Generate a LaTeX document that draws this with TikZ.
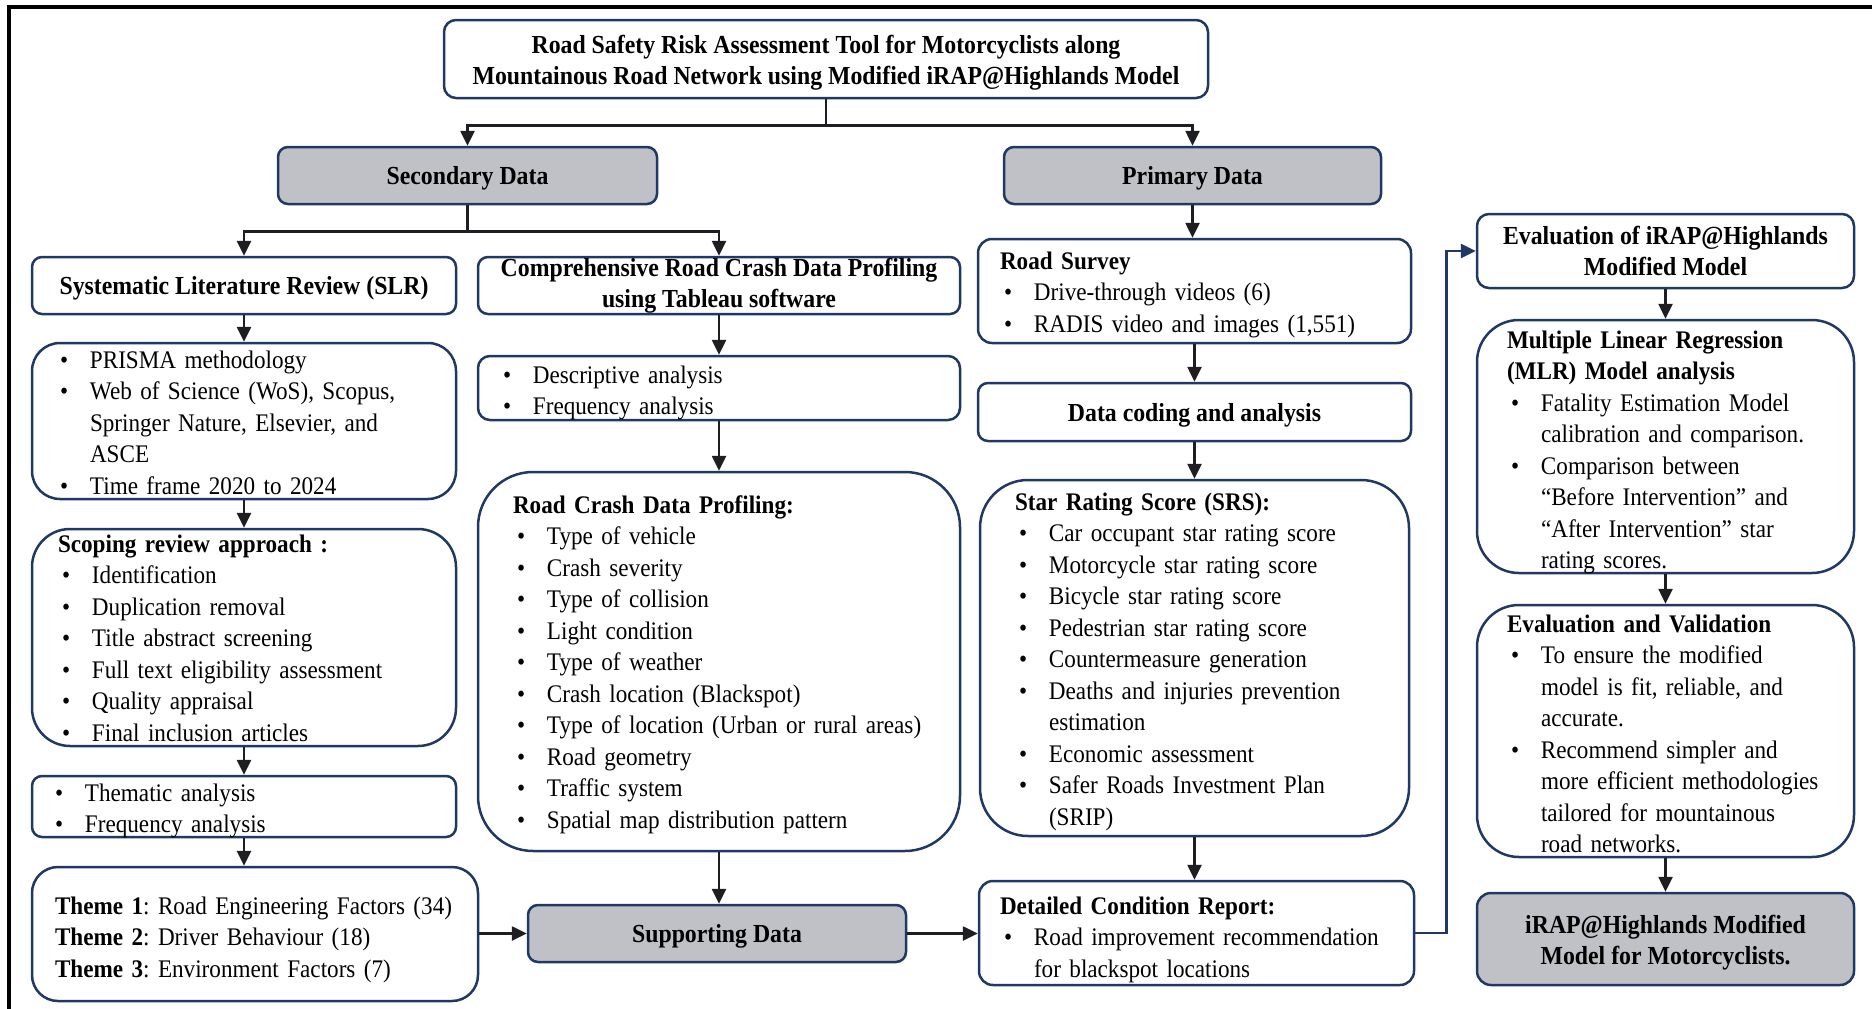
\documentclass[tikz,border=0pt]{standalone}
\usepackage{fontspec}
\setmainfont{Liberation Serif}[FakeStretch=0.915]
\usetikzlibrary{arrows.meta}

\definecolor{navy}{RGB}{31,56,100}
\definecolor{boxgray}{RGB}{191,193,198}
\definecolor{ink}{RGB}{30,30,34}

% bullet items: bullet at \itmbul, text (and wrapped lines) at \itmind
\newlength\itmind \setlength\itmind{34pt}
\newlength\itmbul \setlength\itmbul{4pt}
% \fitm opens the node text, \itm follows a header or another item
\newcommand\fitm[1]{\hangindent=\itmind\hangafter=1\noindent\makebox[\itmind][l]{\hspace{\itmbul}\textbullet}#1\par}
\newcommand\itm[1]{\par\fitm{#1}}
\newcommand\lsk[1]{\setlength\leftskip{#1pt}}

\tikzset{
  every node/.style={font=\fontsize{26}{31.5}\selectfont},
  bx/.style={draw=navy, line width=2.5pt, fill=white, inner ysep=0pt, text=black},
  hd/.style={bx, align=center, font=\fontsize{26}{31.5}\selectfont\bfseries,
             rounded corners=10pt, inner xsep=4pt},
  shaded/.style={fill=boxgray},
  lst/.style={bx, align=left, inner xsep=4pt, font=\fontsize{25.3}{31.5}\selectfont},
  % first baseline #1 below the top edge, #2 above the bottom edge
  tb/.style 2 args={text height=#1pt, text depth=#2pt},
  arr/.style={draw=ink, line width=2.6pt, -{Triangle[length=15pt,width=14pt]}},
}

\begin{document}
\frenchspacing
\begin{tikzpicture}[x=1pt,y=-1pt]
\useasboundingbox (0,0) rectangle (1872,1009);

% page frame (top and left rules)
\draw[line width=4pt, black] (1872,7) -- (9,7) -- (9,1009);

% ---- top ----
\node[hd, rounded corners=12pt, minimum width=764pt, minimum height=78pt] (title) at (826,59)
  {\rule{0pt}{26pt}Road Safety Risk Assessment Tool for Motorcyclists along\\
   Mountainous Road Network using Modified iRAP@Highlands Model};

\node[hd, shaded, minimum width=379pt, minimum height=57pt] (sec) at (467.5,175.5) {\rule{0pt}{24pt}Secondary Data};
\node[hd, shaded, minimum width=377pt, minimum height=57pt] (pri) at (1192.5,175.5) {\rule{0pt}{24pt}Primary Data};

% ---- secondary data branch ----
\node[hd, minimum width=424pt, minimum height=57pt] (slr) at (244,285.5) {\rule{0pt}{24pt}Systematic Literature Review (SLR)};
\node[hd, minimum width=482pt, minimum height=57pt] (crdp) at (719,285.5)
  {Comprehensive Road Crash Data Profiling\\using Tableau software};

\node[lst, tb={25}{131}, text width=416pt, minimum width=424pt, minimum height=156pt, rounded corners=28pt] (prisma) at (244,421)
  {\lsk{20}\fitm{PRISMA methodology}
   \itm{Web of Science (WoS), Scopus,\newline Springer Nature, Elsevier, and\newline ASCE}
   \itm{Time frame 2020 to 2024}};

\node[lst, tb={23}{194}, text width=416pt, minimum width=424pt, minimum height=217pt, rounded corners=38pt] (scoping) at (244,637.5)
  {\lsk{22}\textbf{Scoping review approach :}
   \itm{Identification}
   \itm{Duplication removal}
   \itm{Title abstract screening}
   \itm{Full text eligibility assessment}
   \itm{Quality appraisal}
   \itm{Final inclusion articles}};

\node[lst, tb={25}{36}, text width=416pt, minimum width=424pt, minimum height=61pt, rounded corners=10pt] (thematic) at (244,806.5)
  {\lsk{15}\fitm{Thematic analysis}
   \itm{Frequency analysis}};

\node[lst, tb={47}{87}, text width=438pt, minimum width=446pt, minimum height=134pt, rounded corners=26pt] (theme) at (255,934)
  {\lsk{19}\textbf{Theme 1}: Road Engineering Factors (34)\newline
   \textbf{Theme 2}: Driver Behaviour (18)\newline
   \textbf{Theme 3}: Environment Factors (7)\par};

\node[lst, tb={27}{37}, text width=474pt, minimum width=482pt, minimum height=64pt, rounded corners=12pt] (desc) at (719,388)
  {\lsk{17}\fitm{Descriptive analysis}
   \itm{Frequency analysis}};

\node[lst, tb={41}{338}, text width=474pt, minimum width=482pt, minimum height=379pt, rounded corners=55pt] (rcdp) at (719,661.5)
  {\lsk{31}\textbf{Road Crash Data Profiling:}
   \itm{Type of vehicle}
   \itm{Crash severity}
   \itm{Type of collision}
   \itm{Light condition}
   \itm{Type of weather}
   \itm{Crash location (Blackspot)}
   \itm{Type of location (Urban or rural areas)}
   \itm{Road geometry}
   \itm{Traffic system}
   \itm{Spatial map distribution pattern}};

\node[hd, shaded, minimum width=378pt, minimum height=57pt] (supp) at (717,933.5) {\rule{0pt}{24pt}Supporting Data};

% ---- primary data branch ----
\node[lst, tb={30}{74}, text width=425pt, minimum width=433pt, minimum height=104pt, rounded corners=14pt] (survey) at (1194.5,291)
  {\lsk{18}\textbf{Road Survey}
   \itm{Drive-through videos (6)}
   \itm{RADIS video and images (1,551)}};

\node[hd, minimum width=433pt, minimum height=58pt] (coding) at (1194.5,412) {\rule{0pt}{24pt}Data coding and analysis};

\node[lst, tb={30}{326}, text width=421pt, minimum width=429pt, minimum height=356pt, rounded corners=48pt] (srs) at (1194.5,658)
  {\lsk{31}\textbf{Star Rating Score (SRS):}
   \itm{Car occupant star rating score}
   \itm{Motorcycle star rating score}
   \itm{Bicycle star rating score}
   \itm{Pedestrian star rating score}
   \itm{Countermeasure generation}
   \itm{Deaths and injuries prevention\newline estimation}
   \itm{Economic assessment}
   \itm{Safer Roads Investment Plan\newline (SRIP)}};

\node[lst, tb={33}{71}, text width=427pt, minimum width=435pt, minimum height=104pt, rounded corners=14pt] (dcr) at (1196.5,933)
  {\lsk{17}\textbf{Detailed Condition Report:}
   \itm{Road improvement recommendation\newline for blackspot locations}};

% ---- evaluation column ----
\node[hd, rounded corners=12pt, minimum width=377pt, minimum height=74pt] (evalm) at (1665.5,251)
  {Evaluation of iRAP@Highlands\\Modified Model};

\node[lst, tb={28}{225}, text width=369pt, minimum width=377pt, minimum height=253pt, rounded corners=42pt] (mlr) at (1665.5,446.5)
  {\lsk{26}\textbf{Multiple Linear Regression\newline (MLR) Model analysis}
   \itm{Fatality Estimation Model\newline calibration and comparison.}
   \itm{Comparison between\newline “Before Intervention” and\newline “After Intervention” star\newline rating scores.}};

\node[lst, tb={27}{225}, text width=369pt, minimum width=377pt, minimum height=252pt, rounded corners=42pt] (ev) at (1665.5,731)
  {\lsk{26}\textbf{Evaluation and Validation}
   \itm{To ensure the modified\newline model is fit, reliable, and\newline accurate.}
   \itm{Recommend simpler and\newline more efficient methodologies\newline tailored for mountainous\newline road networks.}};

\node[hd, shaded, rounded corners=14pt, minimum width=377pt, minimum height=92pt] (final) at (1665.5,939)
  {\rule{0pt}{26pt}iRAP@Highlands Modified\\Model for Motorcyclists.};

% ---- connectors ----
\draw[arr] (title.south) -- ++(0,26) -| (sec.north);
\draw[arr] (title.south) -- ++(0,26) -| (pri.north);

\draw[arr] (sec.south) -- ++(0,26) -| (slr.north);
\draw[arr] (sec.south) -- ++(0,26) -| (crdp.north);

\draw[arr] (slr.south) -- (slr.south |- prisma.north);
\draw[arr] (prisma.south) -- (prisma.south |- scoping.north);
\draw[arr] (scoping.south) -- (scoping.south |- thematic.north);
\draw[arr] (thematic.south) -- (thematic.south |- theme.north);
\draw[arr] (theme.east |- supp.west) -- (supp.west);

\draw[arr] (crdp.south) -- (crdp.south |- desc.north);
\draw[arr] (desc.south) -- (desc.south |- rcdp.north);
\draw[arr] (rcdp.south) -- (rcdp.south |- supp.north);
\draw[arr] (supp.east) -- (supp.east -| dcr.west);

\draw[arr] (pri.south) -- (pri.south |- survey.north);
\draw[arr] (survey.south) -- (survey.south |- coding.north);
\draw[arr] (coding.south) -- (coding.south |- srs.north);
\draw[arr] (srs.south) -- (srs.south |- dcr.north);

\draw[arr, draw=navy] (dcr.east) -- ++(31,0) |- (evalm.west);

\draw[arr] (evalm.south) -- (mlr.north);
\draw[arr] (mlr.south) -- (ev.north);
\draw[arr] (ev.south) -- (final.north);
\end{tikzpicture}
\end{document}
